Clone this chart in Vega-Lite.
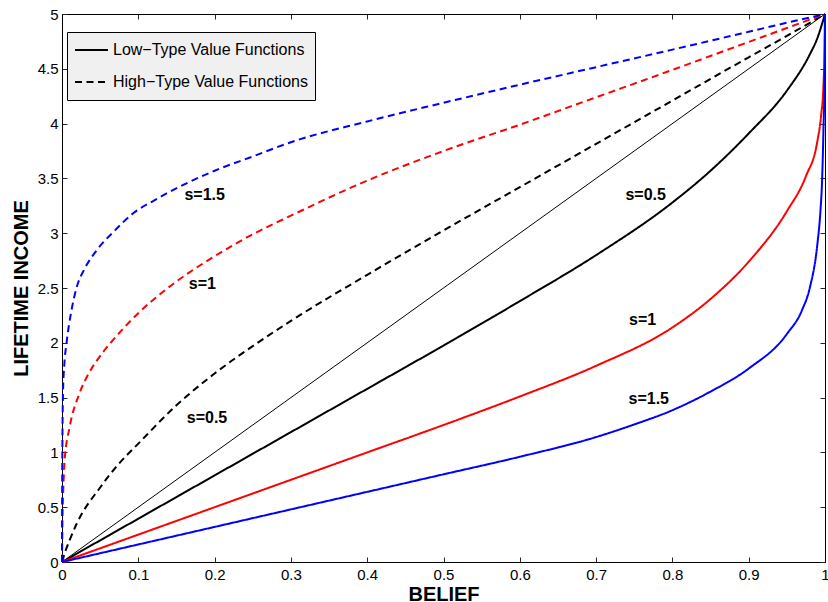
{
  "$schema": "https://vega.github.io/schema/vega-lite/v6.json",
  "width": 763,
  "height": 548,
  "autosize": "none",
  "padding": {"left": 62, "top": 14, "right": 3, "bottom": 40},
  "background": "white",
  "config": {
    "font": "Liberation Sans",
    "view": {"stroke": "black", "strokeWidth": 1},
    "axis": {
      "grid": false,
      "domainColor": "black",
      "domainWidth": 1,
      "tickColor": "#262626",
      "tickWidth": 1,
      "tickSize": -5,
      "labelColor": "black",
      "labelFont": "Liberation Sans",
      "labelFontSize": 15,
      "labelFlush": false,
      "labelOverlap": false,
      "titleColor": "black",
      "titleFont": "Liberation Sans",
      "titleFontSize": 20,
      "titleFontWeight": "bold"
    }
  },
  "datasets": {
    "diag": [{"b": 0, "v": 0}, {"b": 1, "v": 5}],
    "labels": [
      {"b": 0.187, "v": 3.345, "label": "s=1.5"},
      {"b": 0.184, "v": 2.534, "label": "s=1"},
      {"b": 0.19, "v": 1.311, "label": "s=0.5"},
      {"b": 0.765, "v": 3.345, "label": "s=0.5"},
      {"b": 0.761, "v": 2.21, "label": "s=1"},
      {"b": 0.769, "v": 1.485, "label": "s=1.5"}
    ],
    "curves": [
      {"b": 0, "v": 0, "s": "0.5", "type": "Low−Type Value Functions"},
      {"b": 0.1, "v": 0.395, "s": "0.5", "type": "Low−Type Value Functions"},
      {"b": 0.2, "v": 0.79, "s": "0.5", "type": "Low−Type Value Functions"},
      {"b": 0.3, "v": 1.185, "s": "0.5", "type": "Low−Type Value Functions"},
      {"b": 0.4, "v": 1.58, "s": "0.5", "type": "Low−Type Value Functions"},
      {"b": 0.5, "v": 1.975, "s": "0.5", "type": "Low−Type Value Functions"},
      {"b": 0.6, "v": 2.38, "s": "0.5", "type": "Low−Type Value Functions"},
      {"b": 0.7, "v": 2.8, "s": "0.5", "type": "Low−Type Value Functions"},
      {"b": 0.8, "v": 3.28, "s": "0.5", "type": "Low−Type Value Functions"},
      {"b": 0.85, "v": 3.57, "s": "0.5", "type": "Low−Type Value Functions"},
      {"b": 0.9, "v": 3.91, "s": "0.5", "type": "Low−Type Value Functions"},
      {"b": 0.95, "v": 4.3, "s": "0.5", "type": "Low−Type Value Functions"},
      {"b": 0.98, "v": 4.63, "s": "0.5", "type": "Low−Type Value Functions"},
      {"b": 0.99, "v": 4.78, "s": "0.5", "type": "Low−Type Value Functions"},
      {"b": 1, "v": 5, "s": "0.5", "type": "Low−Type Value Functions"},

      {"b": 0, "v": 0, "s": "0.5", "type": "High−Type Value Functions"},
      {"b": 0.005, "v": 0.11, "s": "0.5", "type": "High−Type Value Functions"},
      {"b": 0.01, "v": 0.2, "s": "0.5", "type": "High−Type Value Functions"},
      {"b": 0.02, "v": 0.36, "s": "0.5", "type": "High−Type Value Functions"},
      {"b": 0.05, "v": 0.68, "s": "0.5", "type": "High−Type Value Functions"},
      {"b": 0.075, "v": 0.9, "s": "0.5", "type": "High−Type Value Functions"},
      {"b": 0.1, "v": 1.08, "s": "0.5", "type": "High−Type Value Functions"},
      {"b": 0.15, "v": 1.43, "s": "0.5", "type": "High−Type Value Functions"},
      {"b": 0.2, "v": 1.72, "s": "0.5", "type": "High−Type Value Functions"},
      {"b": 0.25, "v": 1.97, "s": "0.5", "type": "High−Type Value Functions"},
      {"b": 0.3, "v": 2.2, "s": "0.5", "type": "High−Type Value Functions"},
      {"b": 0.4, "v": 2.62, "s": "0.5", "type": "High−Type Value Functions"},
      {"b": 0.5, "v": 3.025, "s": "0.5", "type": "High−Type Value Functions"},
      {"b": 0.6, "v": 3.42, "s": "0.5", "type": "High−Type Value Functions"},
      {"b": 0.7, "v": 3.815, "s": "0.5", "type": "High−Type Value Functions"},
      {"b": 0.8, "v": 4.21, "s": "0.5", "type": "High−Type Value Functions"},
      {"b": 0.9, "v": 4.605, "s": "0.5", "type": "High−Type Value Functions"},
      {"b": 0.95, "v": 4.8, "s": "0.5", "type": "High−Type Value Functions"},
      {"b": 1, "v": 5, "s": "0.5", "type": "High−Type Value Functions"},

      {"b": 0, "v": 0, "s": "1", "type": "Low−Type Value Functions"},
      {"b": 0.1, "v": 0.25, "s": "1", "type": "Low−Type Value Functions"},
      {"b": 0.2, "v": 0.5, "s": "1", "type": "Low−Type Value Functions"},
      {"b": 0.3, "v": 0.75, "s": "1", "type": "Low−Type Value Functions"},
      {"b": 0.4, "v": 1.0, "s": "1", "type": "Low−Type Value Functions"},
      {"b": 0.5, "v": 1.25, "s": "1", "type": "Low−Type Value Functions"},
      {"b": 0.6, "v": 1.51, "s": "1", "type": "Low−Type Value Functions"},
      {"b": 0.7, "v": 1.79, "s": "1", "type": "Low−Type Value Functions"},
      {"b": 0.8, "v": 2.14, "s": "1", "type": "Low−Type Value Functions"},
      {"b": 0.85, "v": 2.4, "s": "1", "type": "Low−Type Value Functions"},
      {"b": 0.9, "v": 2.74, "s": "1", "type": "Low−Type Value Functions"},
      {"b": 0.95, "v": 3.2, "s": "1", "type": "Low−Type Value Functions"},
      {"b": 0.975, "v": 3.52, "s": "1", "type": "Low−Type Value Functions"},
      {"b": 0.99, "v": 3.84, "s": "1", "type": "Low−Type Value Functions"},
      {"b": 0.995, "v": 4.08, "s": "1", "type": "Low−Type Value Functions"},
      {"b": 0.998, "v": 4.35, "s": "1", "type": "Low−Type Value Functions"},
      {"b": 0.9995, "v": 4.7, "s": "1", "type": "Low−Type Value Functions"},
      {"b": 1, "v": 5, "s": "1", "type": "Low−Type Value Functions"},

      {"b": 0, "v": 0, "s": "1", "type": "High−Type Value Functions"},
      {"b": 0.0005, "v": 0.35, "s": "1", "type": "High−Type Value Functions"},
      {"b": 0.0015, "v": 0.62, "s": "1", "type": "High−Type Value Functions"},
      {"b": 0.0035, "v": 0.93, "s": "1", "type": "High−Type Value Functions"},
      {"b": 0.01, "v": 1.23, "s": "1", "type": "High−Type Value Functions"},
      {"b": 0.023, "v": 1.54, "s": "1", "type": "High−Type Value Functions"},
      {"b": 0.035, "v": 1.72, "s": "1", "type": "High−Type Value Functions"},
      {"b": 0.049, "v": 1.87, "s": "1", "type": "High−Type Value Functions"},
      {"b": 0.07, "v": 2.05, "s": "1", "type": "High−Type Value Functions"},
      {"b": 0.1, "v": 2.27, "s": "1", "type": "High−Type Value Functions"},
      {"b": 0.135, "v": 2.48, "s": "1", "type": "High−Type Value Functions"},
      {"b": 0.2, "v": 2.79, "s": "1", "type": "High−Type Value Functions"},
      {"b": 0.25, "v": 2.99, "s": "1", "type": "High−Type Value Functions"},
      {"b": 0.3, "v": 3.16, "s": "1", "type": "High−Type Value Functions"},
      {"b": 0.4, "v": 3.48, "s": "1", "type": "High−Type Value Functions"},
      {"b": 0.5, "v": 3.75, "s": "1", "type": "High−Type Value Functions"},
      {"b": 0.6, "v": 3.99, "s": "1", "type": "High−Type Value Functions"},
      {"b": 0.7, "v": 4.24, "s": "1", "type": "High−Type Value Functions"},
      {"b": 0.8, "v": 4.49, "s": "1", "type": "High−Type Value Functions"},
      {"b": 0.9, "v": 4.745, "s": "1", "type": "High−Type Value Functions"},
      {"b": 0.95, "v": 4.872, "s": "1", "type": "High−Type Value Functions"},
      {"b": 1, "v": 5, "s": "1", "type": "High−Type Value Functions"},

      {"b": 0, "v": 0, "s": "1.5", "type": "Low−Type Value Functions"},
      {"b": 0.1, "v": 0.16, "s": "1.5", "type": "Low−Type Value Functions"},
      {"b": 0.2, "v": 0.32, "s": "1.5", "type": "Low−Type Value Functions"},
      {"b": 0.3, "v": 0.48, "s": "1.5", "type": "Low−Type Value Functions"},
      {"b": 0.4, "v": 0.64, "s": "1.5", "type": "Low−Type Value Functions"},
      {"b": 0.5, "v": 0.8, "s": "1.5", "type": "Low−Type Value Functions"},
      {"b": 0.6, "v": 0.96, "s": "1.5", "type": "Low−Type Value Functions"},
      {"b": 0.7, "v": 1.14, "s": "1.5", "type": "Low−Type Value Functions"},
      {"b": 0.75, "v": 1.255, "s": "1.5", "type": "Low−Type Value Functions"},
      {"b": 0.8, "v": 1.385, "s": "1.5", "type": "Low−Type Value Functions"},
      {"b": 0.85, "v": 1.555, "s": "1.5", "type": "Low−Type Value Functions"},
      {"b": 0.9, "v": 1.765, "s": "1.5", "type": "Low−Type Value Functions"},
      {"b": 0.95, "v": 2.08, "s": "1.5", "type": "Low−Type Value Functions"},
      {"b": 0.97, "v": 2.3, "s": "1.5", "type": "Low−Type Value Functions"},
      {"b": 0.98, "v": 2.5, "s": "1.5", "type": "Low−Type Value Functions"},
      {"b": 0.99, "v": 2.9, "s": "1.5", "type": "Low−Type Value Functions"},
      {"b": 0.994, "v": 3.2, "s": "1.5", "type": "Low−Type Value Functions"},
      {"b": 0.996, "v": 3.45, "s": "1.5", "type": "Low−Type Value Functions"},
      {"b": 0.998, "v": 3.95, "s": "1.5", "type": "Low−Type Value Functions"},
      {"b": 0.9995, "v": 4.5, "s": "1.5", "type": "Low−Type Value Functions"},
      {"b": 1, "v": 5, "s": "1.5", "type": "Low−Type Value Functions"},

      {"b": 0, "v": 0, "s": "1.5", "type": "High−Type Value Functions"},
      {"b": 0.0003, "v": 0.8, "s": "1.5", "type": "High−Type Value Functions"},
      {"b": 0.0013, "v": 1.54, "s": "1.5", "type": "High−Type Value Functions"},
      {"b": 0.003, "v": 1.8, "s": "1.5", "type": "High−Type Value Functions"},
      {"b": 0.0058, "v": 1.99, "s": "1.5", "type": "High−Type Value Functions"},
      {"b": 0.012, "v": 2.28, "s": "1.5", "type": "High−Type Value Functions"},
      {"b": 0.019, "v": 2.5, "s": "1.5", "type": "High−Type Value Functions"},
      {"b": 0.03, "v": 2.68, "s": "1.5", "type": "High−Type Value Functions"},
      {"b": 0.045, "v": 2.84, "s": "1.5", "type": "High−Type Value Functions"},
      {"b": 0.07, "v": 3.03, "s": "1.5", "type": "High−Type Value Functions"},
      {"b": 0.093, "v": 3.18, "s": "1.5", "type": "High−Type Value Functions"},
      {"b": 0.121, "v": 3.3, "s": "1.5", "type": "High−Type Value Functions"},
      {"b": 0.2, "v": 3.57, "s": "1.5", "type": "High−Type Value Functions"},
      {"b": 0.25, "v": 3.7, "s": "1.5", "type": "High−Type Value Functions"},
      {"b": 0.3, "v": 3.83, "s": "1.5", "type": "High−Type Value Functions"},
      {"b": 0.4, "v": 4.02, "s": "1.5", "type": "High−Type Value Functions"},
      {"b": 0.5, "v": 4.19, "s": "1.5", "type": "High−Type Value Functions"},
      {"b": 0.6, "v": 4.355, "s": "1.5", "type": "High−Type Value Functions"},
      {"b": 0.7, "v": 4.515, "s": "1.5", "type": "High−Type Value Functions"},
      {"b": 0.8, "v": 4.675, "s": "1.5", "type": "High−Type Value Functions"},
      {"b": 0.9, "v": 4.838, "s": "1.5", "type": "High−Type Value Functions"},
      {"b": 0.95, "v": 4.92, "s": "1.5", "type": "High−Type Value Functions"},
      {"b": 1, "v": 5, "s": "1.5", "type": "High−Type Value Functions"}
    ]
  },
  "layer": [
    {
      "data": {"name": "diag"},
      "mark": {"type": "line", "stroke": "black", "strokeWidth": 1},
      "encoding": {
        "x": {
          "field": "b", "type": "quantitative",
          "scale": {"domain": [0, 1], "nice": false, "zero": false},
          "axis": {
            "orient": "bottom",
            "values": [0, 0.1, 0.2, 0.3, 0.4, 0.5, 0.6, 0.7, 0.8, 0.9, 1],
            "format": "~g",
            "labelPadding": 10,
            "title": "BELIEF",
            "titleX": 381.5,
            "titleY": 38,
            "titleBaseline": "alphabetic",
            "titleAlign": "center"
          }
        },
        "y": {
          "field": "v", "type": "quantitative",
          "scale": {"domain": [0, 5], "nice": false, "zero": false},
          "axis": {
            "orient": "left",
            "values": [0, 0.5, 1, 1.5, 2, 2.5, 3, 3.5, 4, 4.5, 5],
            "format": "~g",
            "labelPadding": 9,
            "title": "LIFETIME INCOME",
            "titleX": -35,
            "titleY": 274,
            "titleAngle": 270,
            "titleBaseline": "alphabetic",
            "titleAlign": "center"
          }
        }
      }
    },
    {
      "data": {"name": "curves"},
      "mark": {"type": "line", "strokeWidth": 2, "interpolate": "monotone"},
      "encoding": {
        "x": {
          "field": "b", "type": "quantitative",
          "scale": {"domain": [0, 1], "nice": false, "zero": false},
          "axis": {
            "orient": "top",
            "values": [0, 0.1, 0.2, 0.3, 0.4, 0.5, 0.6, 0.7, 0.8, 0.9, 1],
            "labels": false,
            "title": null
          }
        },
        "y": {
          "field": "v", "type": "quantitative",
          "scale": {"domain": [0, 5], "nice": false, "zero": false},
          "axis": {
            "orient": "right",
            "values": [0, 0.5, 1, 1.5, 2, 2.5, 3, 3.5, 4, 4.5, 5],
            "labels": false,
            "title": null
          }
        },
        "color": {
          "field": "s", "type": "nominal",
          "scale": {"domain": ["0.5", "1", "1.5"], "range": ["#000000", "#ff0000", "#0000ff"]},
          "legend": null
        },
        "strokeDash": {
          "field": "type", "type": "nominal",
          "scale": {
            "domain": ["Low−Type Value Functions", "High−Type Value Functions"],
            "range": [[1, 0], [7, 4.5]]
          },
          "legend": {
            "orient": "none",
            "legendX": 5,
            "legendY": 18,
            "title": null,
            "fillColor": "#f0f0f0",
            "strokeColor": "black",
            "padding": 7,
            "clipHeight": 22,
            "rowPadding": 10,
            "symbolType": "stroke",
            "symbolSize": 1089,
            "symbolStrokeWidth": 2,
            "symbolStrokeColor": "black",
            "labelFont": "Liberation Sans",
            "labelFontSize": 16,
            "labelColor": "black",
            "labelOffset": 4,
            "labelLimit": 400,
            "cornerRadius": 0
          }
        }
      }
    },
    {
      "data": {"name": "labels"},
      "mark": {"type": "text", "font": "Liberation Sans", "fontWeight": "bold", "fontSize": 16, "align": "center", "baseline": "middle", "fill": "black"},
      "encoding": {
        "x": {"field": "b", "type": "quantitative", "scale": {"domain": [0, 1], "nice": false, "zero": false}, "axis": null},
        "y": {"field": "v", "type": "quantitative", "scale": {"domain": [0, 5], "nice": false, "zero": false}, "axis": null},
        "text": {"field": "label", "type": "nominal"}
      }
    }
  ],
  "resolve": {"axis": {"x": "independent", "y": "independent"}}
}
